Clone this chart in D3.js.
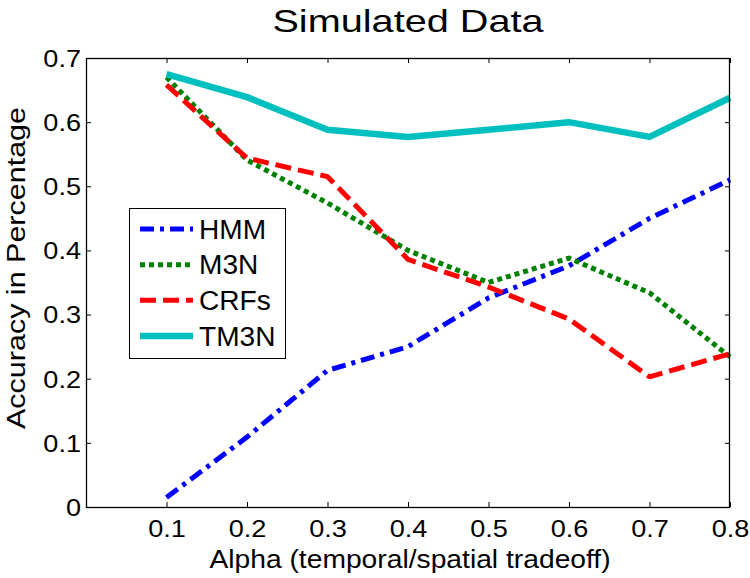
<!DOCTYPE html>
<html><head><meta charset="utf-8">
<script src="https://cdn.jsdelivr.net/npm/d3@7"></script>
<style>
body{margin:0;background:#fff}
text{font-family:"Liberation Sans",Arial,Helvetica,sans-serif;fill:#000}
</style>
</head><body>
<svg id="chart" width="750" height="578"></svg>
<script>
// ---- data ----
const alphas = [0.1, 0.2, 0.3, 0.4, 0.5, 0.6, 0.7, 0.8];
const hmm  = [0.015, 0.109, 0.213, 0.250, 0.326, 0.376, 0.450, 0.510];
const m3n  = [0.670, 0.541, 0.474, 0.400, 0.350, 0.388, 0.334, 0.234];
const crfs = [0.658, 0.544, 0.515, 0.386, 0.343, 0.293, 0.203, 0.239];
const tm3n = [0.675, 0.639, 0.588, 0.577, 0.588, 0.600, 0.577, 0.638];
const seriesNames = ["HMM", "M3N", "CRFs", "TM3N"];
const xTicks = [0.1, 0.2, 0.3, 0.4, 0.5, 0.6, 0.7, 0.8];
const yTicks = [0, 0.1, 0.2, 0.3, 0.4, 0.5, 0.6, 0.7];
const title = "Simulated Data";
const xLabel = "Alpha (temporal/spatial tradeoff)";
const yLabel = "Accuracy in Percentage";

// ---- styles ----
const styles = {
  HMM:  {color:"#0000ff", width:5, dash:"14 6 4 6"},
  M3N:  {color:"#008000", width:5, dash:"5 4"},
  CRFs: {color:"#ff0000", width:5, dash:"16 7"},
  TM3N: {color:"#00bfbf", width:6.5, dash:null}
};
const seriesValues = {HMM:hmm, M3N:m3n, CRFs:crfs, TM3N:tm3n};

const svg = d3.select("#chart");
const L = 86, R = 730, T = 58, B = 507;
const x = d3.scaleLinear().domain([0, 0.8]).range([L, R]);
const y = d3.scaleLinear().domain([0, 0.7]).range([B, T]);

// horizontal glyph stretch (reference text is rendered wider than Arial metrics)
function hscale(sel, f){
  sel.each(function(){
    const el = d3.select(this);
    const xa = +(el.attr("x") || 0);
    el.attr("x", xa / f);
    const prev = el.attr("transform") || "";
    el.attr("transform", (prev + ` scale(${f},1)`).trim());
  });
}

svg.append("rect").attr("x",L).attr("y",T).attr("width",R-L).attr("height",B-T)
  .attr("fill","#fff");

// series lines
const line = d3.line().x((d,i)=>x(alphas[i])).y(d=>y(d));
const gLines = svg.append("g");
seriesNames.forEach(name=>{
  const s = styles[name];
  gLines.append("path").datum(seriesValues[name])
    .attr("d", line)
    .attr("fill","none")
    .attr("stroke", s.color)
    .attr("stroke-width", s.width)
    .attr("stroke-linejoin","round")
    .attr("stroke-dasharray", s.dash);
});

// axes
const fmt = d3.format(".1f");
const tickFmt = d => d === 0 ? "0" : fmt(d);
const gx = svg.append("g").attr("transform",`translate(0,${B})`)
  .call(d3.axisBottom(x).tickValues(xTicks).tickSize(-5).tickSizeOuter(0).tickFormat(tickFmt));
const gxt = svg.append("g").attr("transform",`translate(0,${T})`)
  .call(d3.axisTop(x).tickValues(xTicks).tickSize(-5).tickSizeOuter(0).tickFormat(""));
const gy = svg.append("g").attr("transform",`translate(${L},0)`)
  .call(d3.axisLeft(y).tickValues(yTicks).tickSize(-5).tickSizeOuter(0).tickFormat(tickFmt));
const gyr = svg.append("g").attr("transform",`translate(${R},0)`)
  .call(d3.axisRight(y).tickValues(yTicks).tickSize(-5).tickSizeOuter(0).tickFormat(""));
[gx,gxt,gy,gyr].forEach(g=>{
  g.select(".domain").remove();
  g.selectAll(".tick line").attr("stroke","#000").attr("stroke-width",1);
});
gx.selectAll(".tick text").attr("x",0).attr("y",30).attr("dy",0)
  .style("font-size","24px").attr("fill","#000");
gy.selectAll(".tick text").attr("x",-5).attr("dy","0.35em")
  .style("font-size","24px").attr("fill","#000");
hscale(gx.selectAll(".tick text"), 1.13);
hscale(gy.selectAll(".tick text"), 1.13);

// box
svg.append("rect").attr("x",L+0.5).attr("y",T+0.5).attr("width",R-L-1).attr("height",B-T)
  .attr("fill","none").attr("stroke","#000").attr("stroke-width",1.3);

// title
svg.append("text").attr("transform",`translate(${(L+R)/2},32) scale(1.24,1)`)
  .attr("text-anchor","middle").style("font-size","32px").text(title);

// axis labels
svg.append("text").attr("transform","translate(410,568) scale(1.13,1)").attr("text-anchor","middle")
  .style("font-size","25px").text(xLabel);
svg.append("text").attr("transform","translate(25,268) rotate(-90) scale(1.22,1)").attr("text-anchor","middle")
  .style("font-size","25px").text(yLabel);

// legend
const lg = svg.append("g");
lg.append("rect").attr("x",129.5).attr("y",208.5).attr("width",156).attr("height",150)
  .attr("fill","#fff").attr("stroke","#000").attr("stroke-width",1);
const rowY = d3.scalePoint().domain(seriesNames).range([229, 336]);
seriesNames.forEach(name=>{
  const s = styles[name];
  const yy = rowY(name);
  lg.append("line").attr("x1",140).attr("x2",193).attr("y1",yy).attr("y2",yy)
    .attr("stroke",s.color).attr("stroke-width",s.width).attr("stroke-dasharray",s.dash);
  lg.append("text").attr("transform",`translate(199,${yy}) scale(1.04,1)`).attr("dy","0.36em")
    .style("font-size","27px").text(name);
});
</script>
</body></html>
